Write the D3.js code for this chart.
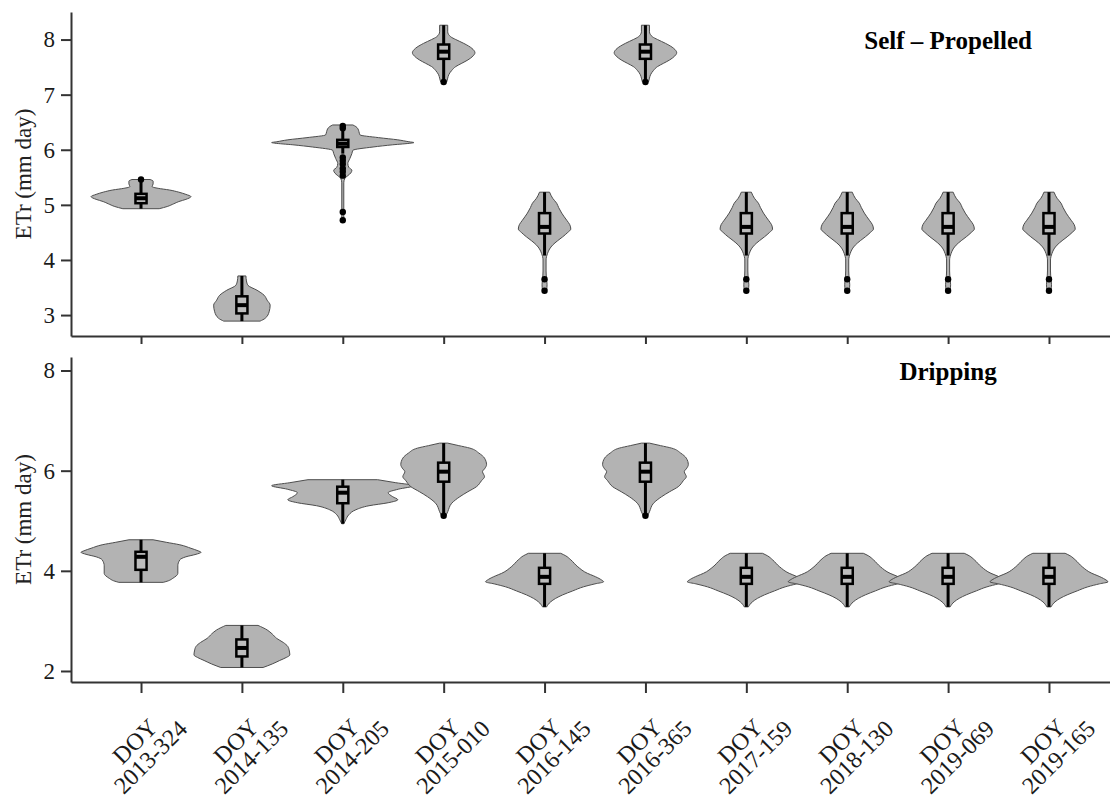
<!DOCTYPE html>
<html>
<head>
<meta charset="utf-8">
<script src="https://cdn.jsdelivr.net/npm/d3@7"></script>
<style>
  body { margin: 0; background: #fff; }
  svg { display: block; }
</style>
</head>
<body>
<div id="chart"></div>
<script>
// dates of the images (x axis)
const categories = ["2013-324", "2014-135", "2014-205", "2015-010", "2016-145",
                    "2016-365", "2017-159", "2018-130", "2019-069", "2019-165"];

// violin outlines: [ETr, half width as share of half a category step]
const selfA = [[4.93,0.36],[4.97,0.52],[5.02,0.65],[5.06,0.75],[5.10,0.89],[5.15,0.99],[5.19,0.89],
               [5.23,0.75],[5.27,0.56],[5.30,0.34],[5.33,0.22],[5.38,0.24],[5.43,0.24],[5.46,0.18]];
const selfB = [[2.89,0.36],[2.94,0.46],[3.06,0.54],[3.18,0.56],[3.27,0.50],[3.36,0.44],[3.45,0.30],
               [3.54,0.12],[3.62,0.09],[3.71,0.08]];
const selfC = [[4.72,0.02],[5.40,0.02],[5.48,0.04],[5.53,0.10],[5.58,0.16],[5.63,0.18],[5.68,0.12],
               [5.75,0.10],[5.84,0.14],[5.93,0.18],[5.99,0.20],[6.05,0.60],[6.09,0.99],[6.12,1.35],
               [6.13,1.41],[6.145,1.31],[6.18,1.09],[6.22,0.71],[6.27,0.34],[6.33,0.32],[6.38,0.30],
               [6.42,0.26],[6.45,0.20]];
const selfD = [[7.23,0.06],[7.30,0.08],[7.36,0.10],[7.44,0.16],[7.51,0.24],[7.57,0.36],[7.63,0.48],
               [7.70,0.58],[7.76,0.62],[7.84,0.56],[7.93,0.40],[8.00,0.24],[8.05,0.14],[8.14,0.08],
               [8.26,0.08]];
const selfE = [[3.44,0.04],[3.55,0.05],[3.65,0.04],[3.80,0.03],[4.00,0.03],[4.12,0.06],[4.20,0.10],
               [4.27,0.16],[4.35,0.26],[4.42,0.36],[4.50,0.46],[4.56,0.52],[4.64,0.50],[4.72,0.44],
               [4.85,0.34],[4.95,0.28],[5.03,0.24],[5.12,0.16],[5.23,0.10]];
const selfShapes = [selfA, selfB, selfC, selfD, selfE, selfD, selfE, selfE, selfE, selfE];

// box stats: [lower whisker, q1, median, q3, upper whisker]
const selfBoxes = [[4.93,5.03,5.12,5.20,5.44], [2.89,3.03,3.18,3.34,3.71], [5.93,6.05,6.11,6.18,6.40],
                   [7.23,7.65,7.78,7.91,8.26], [4.08,4.48,4.60,4.85,5.23], [7.23,7.65,7.78,7.91,8.26],
                   [4.08,4.48,4.60,4.85,5.23], [4.08,4.48,4.60,4.85,5.23], [4.08,4.48,4.60,4.85,5.23],
                   [4.08,4.48,4.60,4.85,5.23]];
const selfOutliers = [[5.46], [], [6.43,6.39,5.86,5.80,5.74,5.66,5.60,5.53,4.87,4.72], [7.23],
                      [3.65,3.44], [7.23], [3.65,3.44], [3.65,3.44], [3.65,3.44], [3.65,3.44]];

const dripA = [[3.77,0.44],[3.80,0.54],[3.85,0.63],[3.95,0.73],[4.10,0.73],[4.22,0.77],[4.28,0.89],
               [4.33,1.09],[4.37,1.19],[4.40,1.13],[4.45,0.99],[4.52,0.77],[4.57,0.50],[4.62,0.24]];
const dripB = [[2.07,0.42],[2.14,0.60],[2.21,0.75],[2.27,0.88],[2.32,0.95],[2.40,0.94],[2.49,0.91],
               [2.57,0.82],[2.65,0.69],[2.74,0.60],[2.82,0.50],[2.91,0.32]];
const dripC = [[4.94,0.02],[5.02,0.06],[5.12,0.12],[5.22,0.26],[5.30,0.52],[5.36,0.90],[5.42,1.09],
               [5.48,0.99],[5.56,0.90],[5.63,1.10],[5.70,1.41],[5.76,1.05],[5.82,0.69]];
const dripD = [[5.07,0.03],[5.18,0.08],[5.35,0.16],[5.48,0.32],[5.58,0.48],[5.68,0.65],[5.80,0.75],
               [5.88,0.81],[5.98,0.77],[6.05,0.82],[6.12,0.85],[6.25,0.81],[6.35,0.70],[6.45,0.52],
               [6.50,0.30],[6.55,0.08]];
const dripE = [[3.28,0.04],[3.38,0.12],[3.45,0.22],[3.52,0.36],[3.60,0.56],[3.68,0.77],[3.74,1.00],
               [3.78,1.17],[3.83,1.11],[3.90,0.97],[3.95,0.85],[4.08,0.66],[4.22,0.52],[4.30,0.42],
               [4.35,0.32]];
const dripShapes = [dripA, dripB, dripC, dripD, dripE, dripD, dripE, dripE, dripE, dripE];

const dripBoxes = [[3.77,4.02,4.28,4.38,4.62], [2.07,2.29,2.46,2.63,2.91], [4.94,5.35,5.56,5.68,5.82],
                   [5.10,5.78,5.98,6.16,6.55], [3.28,3.74,3.88,4.06,4.35], [5.10,5.78,5.98,6.16,6.55],
                   [3.28,3.74,3.88,4.06,4.35], [3.28,3.74,3.88,4.06,4.35], [3.28,3.74,3.88,4.06,4.35],
                   [3.28,3.74,3.88,4.06,4.35]];
const dripOutliers = [[], [], [], [5.10], [], [5.10], [], [], [], []];

const selfTicks = [3, 4, 5, 6, 7, 8];
const dripTicks = [2, 4, 6, 8];

const panels = [
  { title: "Self – Propelled", shapes: selfShapes, boxes: selfBoxes, outliers: selfOutliers,
    ticks: selfTicks, domain: [2.62, 8.5], top: 12, bottom: 336, xTick: 8, labels: false },
  { title: "Dripping", shapes: dripShapes, boxes: dripBoxes, outliers: dripOutliers,
    ticks: dripTicks, domain: [1.78, 8.27], top: 357, bottom: 682, xTick: 11, labels: true }
];

const width = 1110, height = 798;
const left = 71;
const serif = "'Liberation Serif', 'Times New Roman', serif";

const svg = d3.select("#chart").append("svg")
    .attr("width", width)
    .attr("height", height)
    .style("font-family", serif);

const x = d3.scalePoint()
    .domain(categories)
    .range([left, 1119])
    .padding(0.694);

const w = d3.scaleLinear().domain([0, 1]).range([0, x.step() / 2]);
const boxHalf = x.step() * 0.055;

panels.forEach(p => {
  const y = d3.scaleLinear().domain(p.domain).range([p.bottom, p.top]);
  const g = svg.append("g");

  // violins
  p.shapes.forEach((s, i) => {
    const cx = x(categories[i]);
    const area = d3.area()
        .curve(d3.curveMonotoneY)
        .y(d => y(d[0]))
        .x0(d => cx - w(d[1]))
        .x1(d => cx + w(d[1]));
    g.append("path")
        .datum(s)
        .attr("d", area)
        .attr("fill", "#b3b3b3")
        .attr("stroke", "#4d4d4d")
        .attr("stroke-width", 1);
  });

  // boxplots
  const boxes = g.selectAll(".box")
    .data(p.boxes)
    .enter()
    .append("g")
    .attr("transform", (d, i) => `translate(${x(categories[i])},0)`);

  boxes.append("line")
      .attr("y1", d => y(d[0]))
      .attr("y2", d => y(d[4]))
      .attr("stroke", "#000")
      .attr("stroke-width", 3);

  boxes.append("rect")
      .attr("x", -boxHalf)
      .attr("width", boxHalf * 2)
      .attr("y", d => y(d[3]))
      .attr("height", d => y(d[1]) - y(d[3]))
      .attr("fill", "#bdbdbd")
      .attr("stroke", "#000")
      .attr("stroke-width", 2.5);

  boxes.append("line")
      .attr("x1", -boxHalf)
      .attr("x2", boxHalf)
      .attr("y1", d => y(d[2]))
      .attr("y2", d => y(d[2]))
      .attr("stroke", "#000")
      .attr("stroke-width", 4);

  // outliers
  p.outliers.forEach((o, i) => {
    g.selectAll(null)
      .data(o)
      .enter()
      .append("circle")
      .attr("cx", x(categories[i]))
      .attr("cy", d => y(d))
      .attr("r", 3.2)
      .attr("fill", "#000");
  });

  // axes
  const yAxis = g.append("g")
      .attr("transform", `translate(${left},0)`)
      .call(d3.axisLeft(y).tickValues(p.ticks).tickFormat(d3.format("d"))
        .tickSize(10).tickPadding(6).tickSizeOuter(0));

  const xAxis = g.append("g")
      .attr("transform", `translate(0,${p.bottom})`)
      .call(d3.axisBottom(x).tickSize(p.xTick).tickSizeOuter(0).tickFormat(""));

  [yAxis, xAxis].forEach(a => {
    a.select(".domain").attr("stroke", "#333").attr("stroke-width", 2);
    a.selectAll(".tick line").attr("stroke", "#333").attr("stroke-width", 2);
  });
  yAxis.selectAll(".tick text")
      .attr("font-size", 23)
      .attr("fill", "#1a1a1a")
      .attr("font-family", serif);

  xAxis.selectAll(".tick text").remove();
  if (p.labels) {
    const lab = xAxis.selectAll(".tick")
      .append("g")
      .attr("transform", "translate(1,67) rotate(-45)");
    lab.append("text")
      .attr("y", -11)
      .text("DOY");
    lab.append("text")
      .attr("y", 11)
      .text(d => d);
    lab.selectAll("text")
      .attr("x", 0)
      .attr("dy", "0.35em")
      .attr("text-anchor", "middle")
      .attr("font-size", 24)
      .attr("fill", "#1a1a1a")
      .attr("font-family", serif);
  }

  // y title
  g.append("text")
      .attr("transform", `translate(23,${(p.top + p.bottom) / 2}) rotate(-90)`)
      .attr("text-anchor", "middle")
      .attr("dy", "0.35em")
      .attr("font-size", 23)
      .attr("fill", "#222")
      .text("ETr (mm day)");

  // panel title
  g.append("text")
      .attr("x", x(categories[8]))
      .attr("y", y(8) + 9)
      .attr("text-anchor", "middle")
      .attr("font-size", 25)
      .attr("font-weight", "bold")
      .attr("fill", "#000")
      .text(p.title);
});
</script>
</body>
</html>
